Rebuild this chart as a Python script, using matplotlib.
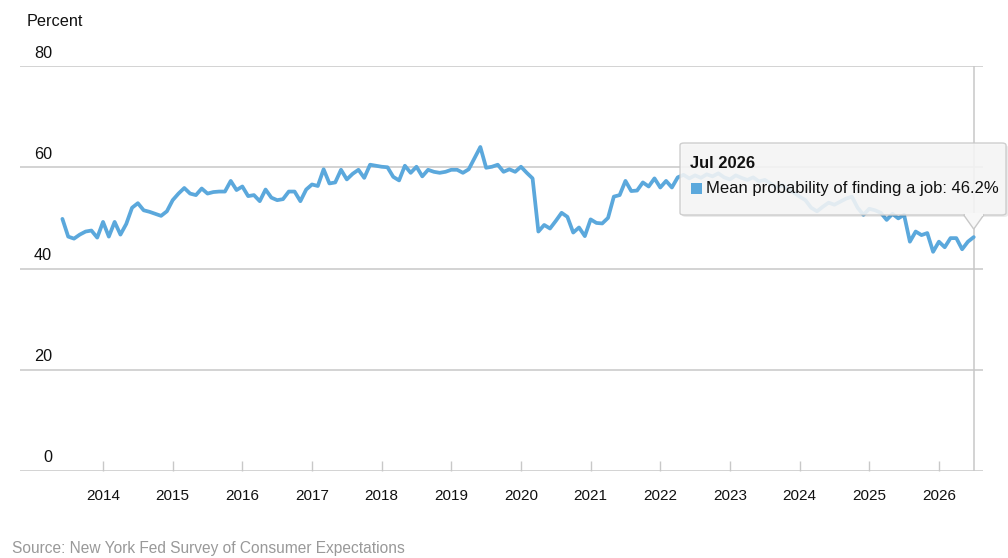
import matplotlib
matplotlib.use('Agg')
import matplotlib.pyplot as plt
from matplotlib.patches import FancyBboxPatch, Polygon, Rectangle
import numpy as np

plt.rcParams['font.family'] = ['Liberation Sans', 'DejaVu Sans']

# monthly values, Jun 2013 .. Jul 2026 (percent)
vals_2013 = [49.8, 46.3, 45.9, 46.7, 47.3, 47.5, 46.1]
vals_2014 = [49.2, 46.3, 49.2, 46.7, 48.8, 52.0, 52.9, 51.5, 51.2, 50.8, 50.4, 51.3]
vals_2015 = [53.5, 54.8, 55.9, 54.8, 54.5, 55.8, 54.8, 55.1, 55.2, 55.2, 57.3, 55.5]
vals_2016 = [56.2, 54.3, 54.5, 53.3, 55.6, 54.0, 53.5, 53.7, 55.2, 55.2, 53.3, 55.6]
vals_2017 = [56.6, 56.3, 59.6, 56.8, 57.0, 59.5, 57.6, 58.7, 59.5, 57.9, 60.5, 60.3]
vals_2018 = [60.1, 60.0, 58.1, 57.4, 60.3, 58.9, 60.1, 58.2, 59.5, 59.1, 58.9, 59.1]
vals_2019 = [59.5, 59.5, 58.9, 59.6, 61.8, 64.0, 59.9, 60.1, 60.5, 59.1, 59.6, 59.1]
vals_2020 = [60.1, 58.9, 57.8, 47.3, 48.6, 47.9, 49.4, 51.0, 50.2, 47.1, 48.1, 46.4]
vals_2021 = [49.7, 49.0, 48.9, 50.0, 54.2, 54.5, 57.3, 55.3, 55.4, 57.0, 56.2, 57.8]
vals_2022 = [56.0, 57.3, 56.0, 58.0, 58.5, 57.8, 58.4, 57.9, 58.6, 58.2, 58.8, 58.0]
vals_2023 = [57.6, 58.4, 57.9, 57.5, 58.0, 57.2, 57.5, 56.8, 56.0, 56.5, 55.6, 55.0]
vals_2024 = [54.2, 53.5, 52.0, 51.3, 52.2, 53.0, 52.6, 53.2, 53.8, 54.2, 52.0, 50.6]
vals_2025 = [51.8, 51.5, 51.0, 49.6, 50.8, 49.9, 50.6, 45.3, 47.3, 46.6, 47.0, 43.3]
vals_2026 = [45.3, 44.2, 46.0, 46.0, 43.8, 45.3, 46.2]

years = list(range(2014, 2027))
yticks = [0, 20, 40, 60, 80]
months = ['Jan', 'Feb', 'Mar', 'Apr', 'May', 'Jun', 'Jul', 'Aug', 'Sep', 'Oct', 'Nov', 'Dec']
series_name = 'Mean probability of finding a job'

v = np.array(vals_2013 + vals_2014 + vals_2015 + vals_2016 + vals_2017 + vals_2018 + vals_2019
             + vals_2020 + vals_2021 + vals_2022 + vals_2023 + vals_2024 + vals_2025 + vals_2026)
t = 2013 + 5 / 12 + np.arange(len(v)) / 12.0

W, H = 1008, 558
line_col = '#5BA8DC'
grid_col = '#c8c8c8'

def fx(px):
    return px / W

def fy(py):
    return 1 - py / H

fig = plt.figure(figsize=(W / 100, H / 100), dpi=100)
ax = fig.add_axes([fx(20), fy(471), fx(983) - fx(20), fy(66) - fy(471)])

for y in yticks:
    ax.axhline(y, color=grid_col, lw=1.1, zorder=1)
ax.plot(t, v, color=line_col, lw=2.7, solid_joinstyle='round', solid_capstyle='round', zorder=3)
ax.axvline(t[-1], color=grid_col, lw=1.1, zorder=2)

ax.set_xlim(2012.808, 2026.633)
ax.set_ylim(0, 80)
for s in ax.spines.values():
    s.set_visible(False)
ax.set_yticks([])
ax.set_xticks(years)
ax.set_xticklabels([str(y) for y in years], fontsize=11, color='#111111')
ax.tick_params(axis='x', direction='in', length=7, width=1, color=grid_col, pad=13)

# y labels sit above gridlines at left
for y in yticks:
    fig.text(fx(52), fy(471 - y * 5.0625 - 13), str(y), ha='right', va='center',
             fontsize=11.7, color='#111111')

fig.text(fx(27), fy(21), 'Percent', ha='left', va='center', fontsize=11.7, color='#111111')
fig.text(fx(12), fy(549), 'Source: New York Fed Survey of Consumer Expectations',
         ha='left', va='center', fontsize=11.2, color='#999999')

# tooltip
fig.canvas.draw()
px_last, py_last = ax.transData.transform((t[-1], v[-1]))
box_l, box_r, box_t, box_b = 680, 1006, 143, 215
shadow = FancyBboxPatch((fx(box_l + 2), fy(box_b + 2)), fx(box_r - box_l), fy(box_t) - fy(box_b),
                        boxstyle='round,pad=0,rounding_size=0.004', transform=fig.transFigure,
                        facecolor='#000000', alpha=0.08, edgecolor='none', zorder=10)
box = FancyBboxPatch((fx(box_l), fy(box_b)), fx(box_r - box_l), fy(box_t) - fy(box_b),
                     boxstyle='round,pad=0,rounding_size=0.004', transform=fig.transFigure,
                     facecolor='#f7f7f7', alpha=0.88, edgecolor='#c8c8c8', lw=1, zorder=11)
fig.patches.extend([shadow, box])
tip_y = H - py_last - 8
arrow = Polygon([(fx(px_last - 10), fy(box_b)), (fx(px_last + 10), fy(box_b)), (fx(px_last), fy(tip_y))],
                closed=True, transform=fig.transFigure, facecolor='#f7f7f7', edgecolor='#c8c8c8',
                lw=1, zorder=11)
fig.patches.append(arrow)
cover = Rectangle((fx(px_last - 9), fy(box_b + 1)), fx(18), fy(box_b - 2) - fy(box_b + 1),
                  transform=fig.transFigure, facecolor='#f7f7f7', edgecolor='none', zorder=12)
fig.patches.append(cover)
fig.patches.append(Rectangle((fx(691), fy(194)), fx(11), fy(183) - fy(194), transform=fig.transFigure,
                             facecolor=line_col, edgecolor='none', zorder=13))

last_month = months[(len(v) - 1 + 5) % 12] + ' ' + str(int(t[-1]))
fig.text(fx(690), fy(163), last_month, ha='left', va='center', fontsize=11.9,
         fontweight='bold', color='#111111', zorder=14)
fig.text(fx(706), fy(188), '%s: %.1f%%' % (series_name, v[-1]), ha='left', va='center',
         fontsize=11.95, color='#111111', zorder=14)

fig.savefig('out.png', dpi=100)
